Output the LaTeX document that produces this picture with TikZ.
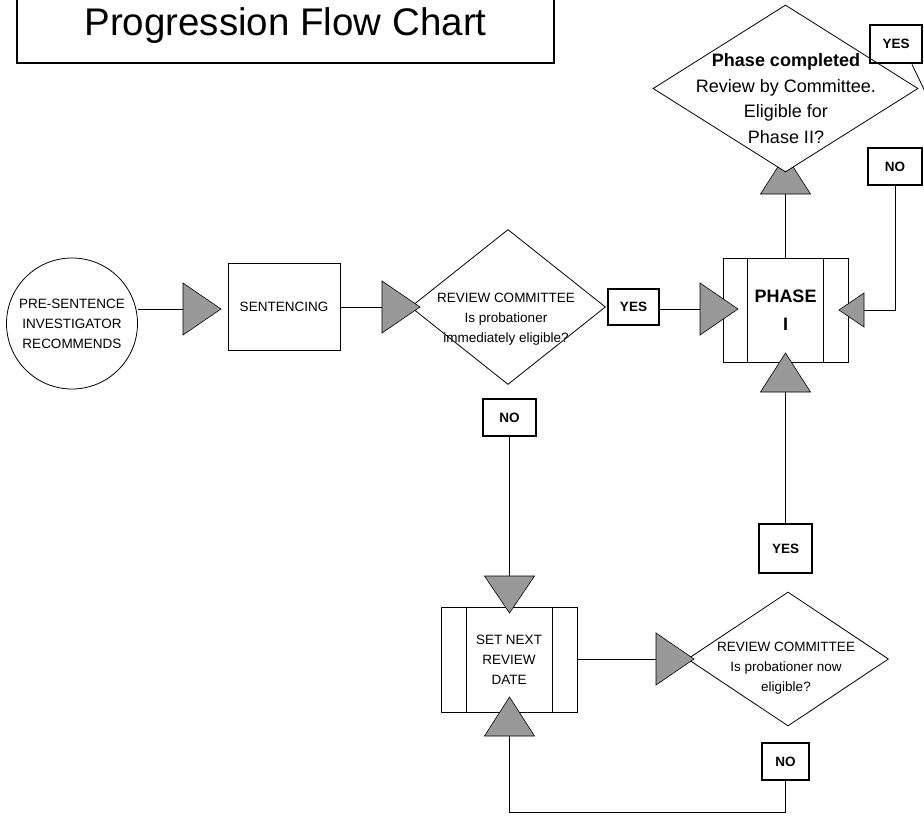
\documentclass[tikz,border=0pt]{standalone}
\usepackage{fontspec}
\setmainfont{Liberation Sans}
\usepackage{tikz}
\usetikzlibrary{shapes.geometric,positioning,calc}

\definecolor{arrowgray}{RGB}{153,153,153}

\begin{document}
\begin{tikzpicture}[
    x=1pt, y=-1pt,
    font=\fontsize{13.5}{20}\selectfont,
    line width=0.8pt,
    flow/.style={black, line width=0.8pt},
    head/.style={draw=black, fill=arrowgray, line width=0.6pt},
    titlebox/.style={
        draw,
        line width=1.3pt,
        minimum width=537pt,
        minimum height=74pt,
        font=\fontsize{38.5}{46}\selectfont
    },
    start/.style={draw, circle, minimum size=131pt, inner sep=0pt, align=center},
    process/.style={draw, minimum width=112pt, minimum height=87pt, inner sep=0pt, align=center},
    predef/.style={draw, inner sep=0pt, align=center},
    decision/.style={draw, diamond, inner sep=0pt},
    answer/.style={
        draw,
        line width=2.8pt,
        inner sep=0pt,
        minimum width=53pt,
        minimum height=37pt,
        font=\fontsize{13.5}{16}\selectfont\bfseries
    },
    question/.style={align=center}
]
\useasboundingbox (0,0) rectangle (924,816);

% Title
\node[titlebox] (title) at (285.5,26) {Progression Flow Chart};

% =====================================================
% ENTRY
% =====================================================

\node[start] (psi) at (72,323.5) {PRE-SENTENCE\\INVESTIGATOR\\RECOMMENDS};
\node[process] (sentencing) at (284,306.5) {SENTENCING};

\node[decision, minimum width=195pt, minimum height=155pt] (review1) at (508,307) {};
\node[question] (review1q) at (506,319) {REVIEW COMMITTEE\\Is probationer\\immediately eligible?};

\node[answer, minimum width=51pt, minimum height=36pt] (yes1) at (633.5,307) {YES};
\node[answer] (no1) at (509.5,417.5) {NO};

% =====================================================
% PHASE I
% =====================================================

\node[predef, minimum width=125pt, minimum height=104pt,
      font=\fontsize{18}{28}\selectfont\bfseries] (phase1) at (785.5,310) {PHASE\\I};
\draw[flow] ([xshift=25pt]phase1.north west) -- ([xshift=25pt]phase1.south west);
\draw[flow] ([xshift=-25pt]phase1.north east) -- ([xshift=-25pt]phase1.south east);

\node[answer, minimum height=49pt] (yes2) at (785.5,548.5) {YES};
\node[answer, minimum width=54pt] (noTR) at (895,166.5) {NO};

% =====================================================
% NEXT REVIEW
% =====================================================

\node[predef, minimum width=136pt, minimum height=105pt] (nextdate) at (509,659.5) {SET NEXT\\REVIEW\\DATE};
\draw[flow] ([xshift=26pt]nextdate.north west) -- ([xshift=26pt]nextdate.south west);
\draw[flow] ([xshift=-25pt]nextdate.north east) -- ([xshift=-25pt]nextdate.south east);

\node[decision, minimum width=201pt, minimum height=134pt] (review2) at (788,659) {};
\node[question] (review2q) at (786,668.5) {REVIEW COMMITTEE\\Is probationer now\\eligible?};
\node[answer, minimum width=47pt] (no3) at (785.5,761.5) {NO};

% =====================================================
% ARROW HEADS (coordinate sits on the base)
% =====================================================

\foreach \n/\x/\y in {t1/183/309, t2/382/307, t3/700/309, t7/656/659} {
    \coordinate (\n) at (\x,\y);
    \draw[head] (\x,\y-26) -- (\x+38,\y) -- (\x,\y+26) -- cycle;
}
\foreach \n/\x/\y in {t5/785.5/194, t8/785.5/392, t9/509.5/736} {
    \coordinate (\n) at (\x,\y);
    \draw[head] (\x-25,\y) -- (\x,\y-39) -- (\x+25,\y) -- cycle;
}
\coordinate (t6) at (509.5,576);
\draw[head] (484.5,576) -- (509.5,613) -- (534.5,576) -- cycle;
\coordinate (t4) at (864,310);
\draw[head] (864,293) -- (839,310) -- (864,327) -- cycle;

% Connectors
\draw[flow] (psi.east |- t1) -- (t1);
\draw[flow] (sentencing.east |- t2) -- (t2);
\draw[flow] (yes1.east |- t3) -- (t3);
\draw[flow] (phase1.north) -- (t5);
\draw[flow] (noTR.south) |- (t4);
\draw[flow] (no1.south) -- (t6);
\draw[flow] (nextdate.east |- t7) -- (t7);
\draw[flow] (no3.south) -- ++(0,31) -| (t9);
\draw[flow] (yes2.north) -- (t8);

% =====================================================
% PHASE I REVIEW
% =====================================================

\node[decision, fill=white, minimum width=265pt, minimum height=167pt] (review3) at (785.5,88.5) {};
\node[question, font=\fontsize{18}{25.5}\selectfont] (review3q) at (786,98.5)
    {\textbf{Phase completed}\\Review by Committee.\\Eligible for\\Phase II?};

\node[answer, minimum width=52pt, minimum height=38pt] (yesTR) at (896,44) {YES};
\coordinate (phase2) at (930,102);
\draw[flow] ([xshift=16pt]yesTR.south) -- (phase2);

\end{tikzpicture}
\end{document}
